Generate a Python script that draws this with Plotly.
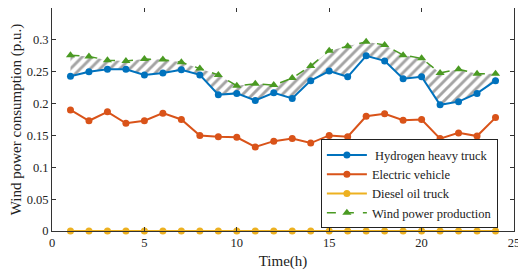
import plotly.graph_objects as go

hours = list(range(1, 25))
hydrogen = [0.243, 0.250, 0.254, 0.254, 0.245, 0.248, 0.253, 0.245, 0.214, 0.216, 0.205, 0.217,
            0.208, 0.236, 0.251, 0.242, 0.275, 0.267, 0.239, 0.242, 0.198, 0.203, 0.216, 0.236]
electric = [0.190, 0.173, 0.187, 0.169, 0.173, 0.185, 0.175, 0.150, 0.148, 0.147, 0.132, 0.141,
            0.145, 0.138, 0.150, 0.148, 0.180, 0.184, 0.174, 0.175, 0.145, 0.154, 0.149, 0.178]
diesel = [0.0] * 24
wind = [0.276, 0.274, 0.268, 0.267, 0.270, 0.269, 0.265, 0.255, 0.245, 0.228, 0.231, 0.229,
        0.240, 0.259, 0.283, 0.290, 0.297, 0.292, 0.276, 0.271, 0.248, 0.254, 0.247, 0.247]
x_ticks = [0, 5, 10, 15, 20, 25]
y_ticks = [0, 0.05, 0.1, 0.15, 0.2, 0.25, 0.3, 0.35]

BLUE = "#0072BD"
ORANGE = "#D95319"
YELLOW = "#EDB120"
GREEN = "#4A9A22"
FONT = "Liberation Serif"

fig = go.Figure()
# hatched region between hydrogen and wind
fig.add_trace(go.Scatter(x=hours, y=hydrogen, mode="lines", line=dict(width=0, color=BLUE),
                         showlegend=False, hoverinfo="skip"))
fig.add_trace(go.Scatter(x=hours, y=wind, mode="lines", line=dict(width=0, color=GREEN),
                         fill="tonexty", fillcolor="rgba(0,0,0,0)",
                         fillpattern=dict(shape="/", fgcolor="#4a4a4a", bgcolor="white",
                                          size=7, solidity=0.42),
                         showlegend=False, hoverinfo="skip"))

fig.add_trace(go.Scatter(x=hours, y=hydrogen, name=" Hydrogen heavy truck", mode="lines+markers",
                         line=dict(color=BLUE, width=2), marker=dict(symbol="circle", size=7, color=BLUE)))
fig.add_trace(go.Scatter(x=hours, y=electric, name="Electric vehicle", mode="lines+markers",
                         line=dict(color=ORANGE, width=2), marker=dict(symbol="circle", size=7, color=ORANGE)))
fig.add_trace(go.Scatter(x=hours, y=diesel, name="Diesel oil truck", mode="lines+markers",
                         line=dict(color=YELLOW, width=2), marker=dict(symbol="circle", size=7, color=YELLOW),
                         cliponaxis=False))
fig.add_trace(go.Scatter(x=hours, y=wind, name="Wind power production", mode="lines+markers",
                         line=dict(color=GREEN, width=1.5, dash="dash"),
                         marker=dict(symbol="triangle-up", size=8, color=GREEN)))

axis_common = dict(showline=True, linecolor="#333333", linewidth=1, mirror="ticks",
                   ticks="inside", ticklen=4, tickcolor="#333333", showgrid=False, zeroline=False,
                   tickfont=dict(family=FONT, size=12.5, color="#222222"))

# page body adds an 8px offset, so the figure is sized to compensate
fig.update_layout(
    width=518, height=263,
    margin=dict(l=44, r=12, t=0, b=40),
    paper_bgcolor="white", plot_bgcolor="white",
    font=dict(family=FONT, size=12.5, color="#222222"),
    xaxis=dict(range=[0, 25], tickvals=x_ticks,
               title=dict(text="Time(h)", font=dict(family=FONT, size=15), standoff=6), **axis_common),
    yaxis=dict(range=[0, 0.35], tickvals=y_ticks,
               title=dict(text="Wind power consumption (p.u.)", font=dict(family=FONT, size=15), standoff=6),
               **axis_common),
    legend=dict(x=0.582, y=0.012, xanchor="left", yanchor="bottom", traceorder="normal",
                bgcolor="white", bordercolor="#222222", borderwidth=1,
                font=dict(family=FONT, size=12.5), itemwidth=40, tracegroupgap=0),
)

fig.write_html("out.html")
